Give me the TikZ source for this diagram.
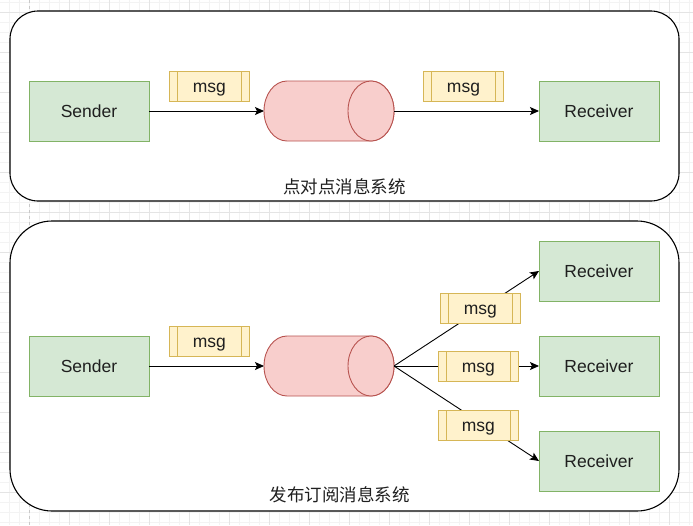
\documentclass[tikz,border=0pt]{standalone}
\usepackage{fontspec}
\setmainfont{Liberation Sans}
\newfontfamily\cjk{Noto Sans CJK SC}
\usetikzlibrary{arrows.meta}
\definecolor{gridfine}{HTML}{F3F3F3}
\definecolor{gridbold}{HTML}{E4E4E4}
\definecolor{pagebound}{HTML}{C8C8C8}
\definecolor{greenfill}{HTML}{D5E8D4}
\definecolor{greenline}{HTML}{82B366}
\definecolor{redfill}{HTML}{F8CECC}
\definecolor{redline}{HTML}{B85450}
\definecolor{yellowfill}{HTML}{FFF2CC}
\definecolor{yellowline}{HTML}{D6B656}
\begin{document}
\begin{tikzpicture}[x=1pt,y=-1pt,
	every node/.style={font=\fontsize{17.5}{21}\selectfont,text=black!88},
	container/.style={draw=black,fill=white,line width=1.1pt},
	party/.style={draw=greenline,fill=greenfill,line width=0.9pt,minimum width=120pt,minimum height=60pt,inner sep=0pt,outer sep=0pt,text height=16pt,text depth=3.4pt},
	queue/.style={minimum width=130pt,minimum height=60pt,inner sep=0pt,outer sep=0pt},
	queueshape/.style={draw=redline,fill=redfill,line width=0.9pt},
	msgbox/.style={draw=yellowline,fill=yellowfill,line width=0.9pt,minimum width=80pt,minimum height=30pt,inner sep=0pt,text height=16pt,text depth=3.4pt,
		path picture={\draw[yellowline,line width=0.9pt]
			([xshift=8pt]path picture bounding box.north west) -- ([xshift=8pt]path picture bounding box.south west)
			([xshift=-8pt]path picture bounding box.north east) -- ([xshift=-8pt]path picture bounding box.south east);}},
	flow/.style={line width=0.9pt,-{Stealth[length=9pt,width=8pt,inset=2pt]}}]
	\useasboundingbox (0,0) rectangle (693,525);
	% grid
	\foreach \i in {0,...,68}
	\draw[gridfine,line width=0.7pt] ({9.3+10*\i},0) -- ({9.3+10*\i},525);
	\foreach \i in {0,...,52}
	\draw[gridfine,line width=0.7pt] (0,{2.7+10*\i}) -- (693,{2.7+10*\i});
	\foreach \i in {1,...,16}
	\draw[gridbold,line width=0.7pt] ({29.3+40*\i},0) -- ({29.3+40*\i},525);
	\foreach \i in {0,...,12}
	\draw[gridbold,line width=0.7pt] (0,{12.7+40*\i}) -- (693,{12.7+40*\i});
	\draw[pagebound,line width=0.7pt,dash pattern=on 3pt off 3pt] (29.3,0) -- (29.3,525);
	% containers
	\draw[container,rounded corners=28pt] (10,11) rectangle (679,201);
	\draw[container,rounded corners=42pt] (10,221) rectangle (679,511);
	% nodes
	\node[party] (send1) at (89,111) {Sender};
	\node[queue] (queue1) at (329,111) {};
	\node[party] (recv1) at (599,111) {Receiver};
	\node[party] (send2) at (89,366) {Sender};
	\node[queue] (queue2) at (329,366) {};
	\node[party] (recv21) at (599,271) {Receiver};
	\node[party] (recv22) at (599,366) {Receiver};
	\node[party] (recv23) at (599,461) {Receiver};
	% cylinders
	\foreach \q in {queue1,queue2} {
		\draw[queueshape] ([shift={(-42pt,30pt)}]\q.center)
			arc[start angle=90,end angle=270,x radius=23pt,y radius=30pt]
			-- ([shift={(42pt,-30pt)}]\q.center)
			arc[start angle=-90,end angle=90,x radius=23pt,y radius=30pt] -- cycle;
		\draw[queueshape] ([xshift=42pt]\q.center) ellipse[x radius=23pt,y radius=30pt];
	}
	% point to point
	\draw[flow] (send1) -- (queue1);
	\draw[flow] (queue1) -- (recv1);
	\node[msgbox] (msg1) at (209.3,86) {msg};
	\node[msgbox] (msg2) at (463.5,86) {msg};
	\node (title1) at (344.5,187) {\cjk 点对点消息系统};
	% publish subscribe
	\draw[flow] (send2) -- (queue2);
	\draw[flow] (queue2.east) -- (recv21.west);
	\draw[flow] (queue2.east) -- (recv22.west);
	\draw[flow] (queue2.east) -- (recv23.west);
	\node[msgbox] (msg3) at (209.3,341) {msg};
	\node[msgbox] (msg4) at (480.3,308.3) {msg};
	\node[msgbox] (msg5) at (478.3,366.3) {msg};
	\node[msgbox] (msg6) at (478.3,425.3) {msg};
	\node (title2) at (339.5,495) {\cjk 发布订阅消息系统};
\end{tikzpicture}
\end{document}
